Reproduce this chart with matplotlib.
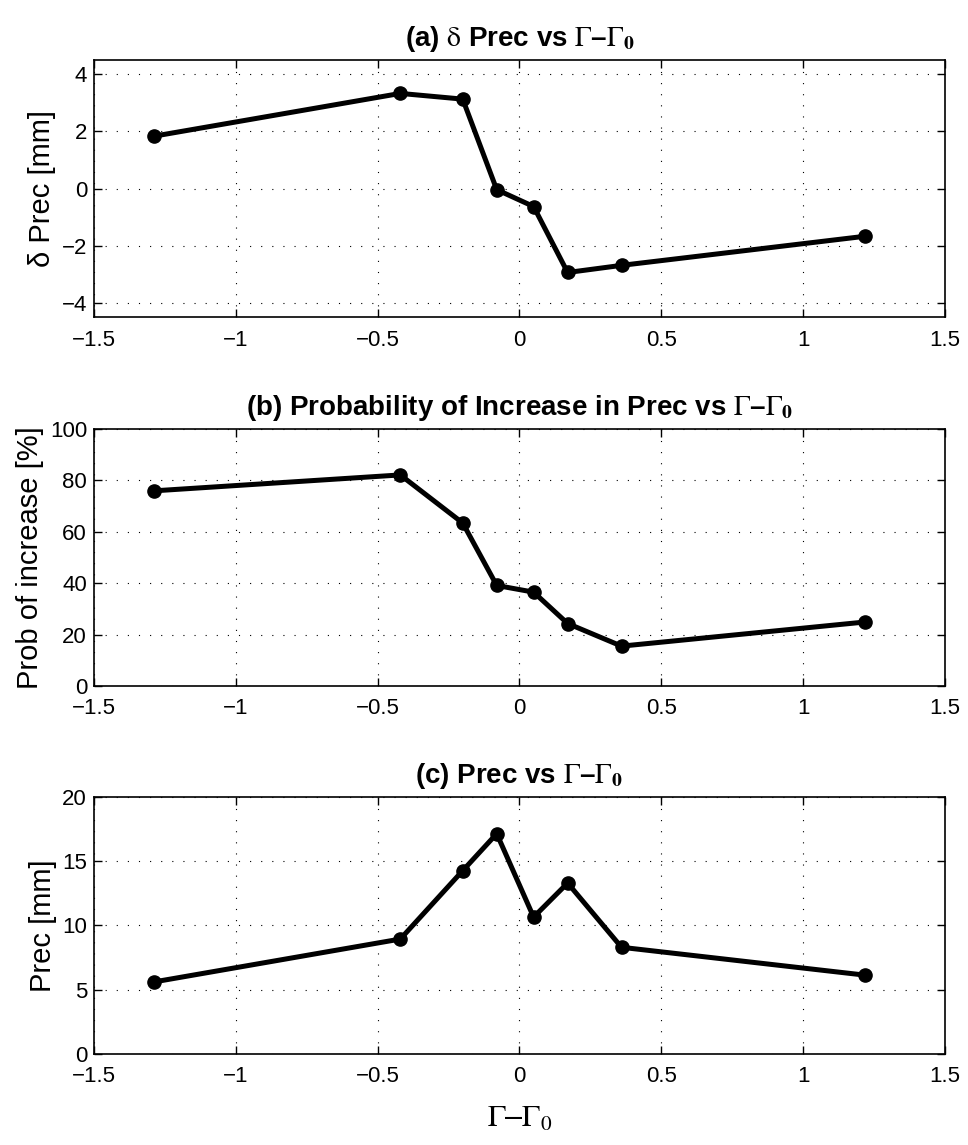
import matplotlib.pyplot as plt

# データ
gamma = [-1.29, -0.42, -0.20, -0.08, 0.05, 0.17, 0.36, 1.22]
d_prec = [1.83, 3.33, 3.13, -0.04, -0.63, -2.94, -2.69, -1.67]
prob_inc = [75.9, 82.1, 63.4, 39.1, 36.5, 24.3, 15.5, 24.9]
prec = [5.6, 8.94, 14.26, 17.14, 10.65, 13.3, 8.3, 6.13]

xticks = [-1.5, -1, -0.5, 0, 0.5, 1, 1.5]
xticklabels = ['\u22121.5', '\u22121', '\u22120.5', '0', '0.5', '1', '1.5']

plt.rcParams['font.family'] = ['Liberation Sans', 'DejaVu Sans']
plt.rcParams['mathtext.fontset'] = 'stix'

fig = plt.figure(figsize=(9.68, 11.45), dpi=100)

gg = r'$\Gamma$' + '\u2013' + r'$\Gamma_{\mathbf{0}}$'

panels = [
    (0.7231, d_prec, [-4.5, 4.5], [-4, -2, 0, 2, 4], ['\u22124', '\u22122', '0', '2', '4'],
     '\u03b4 Prec [mm]', r'(a) $\mathrm{\delta}$ Prec vs ' + gg),
    (0.4009, prob_inc, [0, 100], [0, 20, 40, 60, 80, 100], ['0', '20', '40', '60', '80', '100'],
     'Prob of increase [%]', '(b) Probability of Increase in Prec vs ' + gg),
    (0.0795, prec, [0, 20], [0, 5, 10, 15, 20], ['0', '5', '10', '15', '20'],
     'Prec [mm]', '(c) Prec vs ' + gg),
]

for bottom, y, ylim, yt, ytl, ylab, ttl in panels:
    ax = fig.add_axes([0.0971, bottom, 0.879, 0.2245])
    ax.plot(gamma, y, color='black', lw=3.6, marker='o', markersize=9.5)
    ax.set_xlim(-1.5, 1.5)
    ax.set_ylim(ylim)
    ax.set_xticks(xticks)
    ax.set_xticklabels(xticklabels)
    ax.set_yticks(yt)
    ax.set_yticklabels(ytl)
    ax.grid(True, color='black', linestyle=(0, (1, 9)), linewidth=0.8)
    ax.tick_params(direction='in', top=True, right=True, labelsize=16, length=6, width=1)
    ax.tick_params(axis='x', pad=9)
    ax.tick_params(axis='y', pad=5)
    for s in ax.spines.values():
        s.set_linewidth(1.2)
    ax.set_ylabel(ylab, fontsize=21, labelpad=4)
    ax.set_title(ttl, fontsize=20, fontweight='bold', pad=10)

ax.set_xlabel(r'$\Gamma$' + '\u2013' + r'$\Gamma_0$', fontsize=22, labelpad=12)

plt.savefig('out.png')
